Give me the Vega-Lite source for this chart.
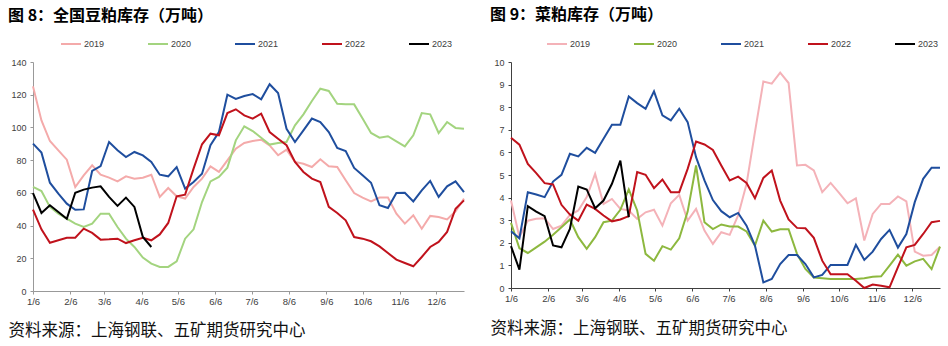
{
  "$schema": "https://vega.github.io/schema/vega-lite/v6.json",
  "background": "white",
  "padding": {"left": 8, "top": 6, "right": 0, "bottom": 0},
  "spacing": 22,
  "resolve": {"scale": {"color": "independent"}, "legend": {"color": "independent"}},
  "config": {
    "view": {"stroke": null},
    "font": "Liberation Sans",
    "axis": {"grid": false, "labelFontSize": 9.5, "labelColor": "#404040", "tickSize": 3, "labelFont": "Liberation Sans"},
    "legend": {"orient": "none", "direction": "horizontal", "symbolType": "stroke", "symbolSize": 400, "symbolStrokeWidth": 2, "labelFontSize": 9, "labelFont": "Liberation Sans", "labelColor": "#404040", "columnPadding": 39, "padding": 0, "labelOffset": 2, "title": null},
    "title": {"font": "Noto Sans CJK SC", "fontSize": 16, "fontWeight": "bold", "anchor": "start", "frame": "group", "color": "#000000"},
    "line": {"strokeWidth": 2}
  },
  "datasets": {
    "a": [
      {"d":"2021/01/06","s":"2019","v":125.1},{"d":"2021/01/13","s":"2019","v":104.3},{"d":"2021/01/20","s":"2019","v":91.7},{"d":"2021/01/27","s":"2019","v":86},{"d":"2021/02/03","s":"2019","v":80.3},{"d":"2021/02/10","s":"2019","v":63.6},{"d":"2021/02/17","s":"2019","v":70.7},{"d":"2021/02/24","s":"2019","v":76.8},{"d":"2021/03/03","s":"2019","v":71.1},{"d":"2021/03/10","s":"2019","v":69.3},{"d":"2021/03/17","s":"2019","v":67},{"d":"2021/03/24","s":"2019","v":70.1},{"d":"2021/03/31","s":"2019","v":68.7},{"d":"2021/04/07","s":"2019","v":69.3},{"d":"2021/04/14","s":"2019","v":71.1},{"d":"2021/04/21","s":"2019","v":57.5},{"d":"2021/04/28","s":"2019","v":63},{"d":"2021/05/05","s":"2019","v":57.9},{"d":"2021/05/12","s":"2019","v":56.5},{"d":"2021/05/19","s":"2019","v":63.6},{"d":"2021/05/26","s":"2019","v":68.7},{"d":"2021/06/02","s":"2019","v":76.2},{"d":"2021/06/09","s":"2019","v":72.8},{"d":"2021/06/16","s":"2019","v":79.9},{"d":"2021/06/23","s":"2019","v":87},{"d":"2021/06/30","s":"2019","v":90.5},{"d":"2021/07/07","s":"2019","v":91.7},{"d":"2021/07/14","s":"2019","v":92.5},{"d":"2021/07/21","s":"2019","v":89},{"d":"2021/07/28","s":"2019","v":83},{"d":"2021/08/04","s":"2019","v":86.4},{"d":"2021/08/11","s":"2019","v":78.9},{"d":"2021/08/18","s":"2019","v":77.8},{"d":"2021/08/25","s":"2019","v":75.8},{"d":"2021/09/01","s":"2019","v":80.5},{"d":"2021/09/08","s":"2019","v":76.2},{"d":"2021/09/15","s":"2019","v":75.8},{"d":"2021/09/22","s":"2019","v":67.7},{"d":"2021/09/29","s":"2019","v":59.9},{"d":"2021/10/06","s":"2019","v":57.1},{"d":"2021/10/13","s":"2019","v":54.8},{"d":"2021/10/20","s":"2019","v":57.1},{"d":"2021/10/27","s":"2019","v":57.1},{"d":"2021/11/03","s":"2019","v":47.3},{"d":"2021/11/10","s":"2019","v":41.2},{"d":"2021/11/17","s":"2019","v":46.3},{"d":"2021/11/24","s":"2019","v":38.1},{"d":"2021/12/01","s":"2019","v":45.9},{"d":"2021/12/08","s":"2019","v":45.2},{"d":"2021/12/15","s":"2019","v":43.8},{"d":"2021/12/22","s":"2019","v":48.7},{"d":"2021/12/29","s":"2019","v":56.5},
      {"d":"2021/01/06","s":"2020","v":63.6},{"d":"2021/01/13","s":"2020","v":61.1},{"d":"2021/01/20","s":"2020","v":51.4},{"d":"2021/01/27","s":"2020","v":47.3},{"d":"2021/02/03","s":"2020","v":44.2},{"d":"2021/02/10","s":"2020","v":41.2},{"d":"2021/02/17","s":"2020","v":39.1},{"d":"2021/02/24","s":"2020","v":41.2},{"d":"2021/03/03","s":"2020","v":47.3},{"d":"2021/03/10","s":"2020","v":47.3},{"d":"2021/03/17","s":"2020","v":39.1},{"d":"2021/03/24","s":"2020","v":32},{"d":"2021/03/31","s":"2020","v":26.9},{"d":"2021/04/07","s":"2020","v":20.4},{"d":"2021/04/14","s":"2020","v":16.7},{"d":"2021/04/21","s":"2020","v":14.7},{"d":"2021/04/28","s":"2020","v":14.7},{"d":"2021/05/05","s":"2020","v":18.1},{"d":"2021/05/12","s":"2020","v":32},{"d":"2021/05/19","s":"2020","v":37.7},{"d":"2021/05/26","s":"2020","v":54.4},{"d":"2021/06/02","s":"2020","v":67},{"d":"2021/06/09","s":"2020","v":69.7},{"d":"2021/06/16","s":"2020","v":75.4},{"d":"2021/06/23","s":"2020","v":92.1},{"d":"2021/06/30","s":"2020","v":100.7},{"d":"2021/07/07","s":"2020","v":97.8},{"d":"2021/07/14","s":"2020","v":93.7},{"d":"2021/07/21","s":"2020","v":89.5},{"d":"2021/07/28","s":"2020","v":90.5},{"d":"2021/08/04","s":"2020","v":91.1},{"d":"2021/08/11","s":"2020","v":101.3},{"d":"2021/08/18","s":"2020","v":108},{"d":"2021/08/25","s":"2020","v":116.2},{"d":"2021/09/01","s":"2020","v":123.7},{"d":"2021/09/08","s":"2020","v":122.3},{"d":"2021/09/15","s":"2020","v":114.5},{"d":"2021/09/22","s":"2020","v":114.1},{"d":"2021/09/29","s":"2020","v":114.1},{"d":"2021/10/06","s":"2020","v":105.4},{"d":"2021/10/13","s":"2020","v":96.6},{"d":"2021/10/20","s":"2020","v":93.7},{"d":"2021/10/27","s":"2020","v":94.6},{"d":"2021/11/03","s":"2020","v":91.5},{"d":"2021/11/10","s":"2020","v":88.4},{"d":"2021/11/17","s":"2020","v":95.2},{"d":"2021/11/24","s":"2020","v":108.8},{"d":"2021/12/01","s":"2020","v":108},{"d":"2021/12/08","s":"2020","v":96.6},{"d":"2021/12/15","s":"2020","v":103.3},{"d":"2021/12/22","s":"2020","v":99.7},{"d":"2021/12/29","s":"2020","v":99.2},
      {"d":"2021/01/06","s":"2021","v":90.1},{"d":"2021/01/13","s":"2021","v":84.6},{"d":"2021/01/20","s":"2021","v":66.2},{"d":"2021/01/27","s":"2021","v":59.5},{"d":"2021/02/03","s":"2021","v":53.4},{"d":"2021/02/10","s":"2021","v":49.7},{"d":"2021/02/17","s":"2021","v":49.9},{"d":"2021/02/24","s":"2021","v":73.4},{"d":"2021/03/03","s":"2021","v":76.4},{"d":"2021/03/10","s":"2021","v":91.1},{"d":"2021/03/17","s":"2021","v":86},{"d":"2021/03/24","s":"2021","v":81.9},{"d":"2021/03/31","s":"2021","v":85},{"d":"2021/04/07","s":"2021","v":82.9},{"d":"2021/04/14","s":"2021","v":78.9},{"d":"2021/04/21","s":"2021","v":71.1},{"d":"2021/04/28","s":"2021","v":70.1},{"d":"2021/05/05","s":"2021","v":75.8},{"d":"2021/05/12","s":"2021","v":62.6},{"d":"2021/05/19","s":"2021","v":66.6},{"d":"2021/05/26","s":"2021","v":71.7},{"d":"2021/06/02","s":"2021","v":89.1},{"d":"2021/06/09","s":"2021","v":97.2},{"d":"2021/06/16","s":"2021","v":120},{"d":"2021/06/23","s":"2021","v":117.4},{"d":"2021/06/30","s":"2021","v":119.2},{"d":"2021/07/07","s":"2021","v":120.4},{"d":"2021/07/14","s":"2021","v":117.2},{"d":"2021/07/21","s":"2021","v":126.4},{"d":"2021/07/28","s":"2021","v":121},{"d":"2021/08/04","s":"2021","v":99.2},{"d":"2021/08/11","s":"2021","v":91.1},{"d":"2021/08/18","s":"2021","v":98.2},{"d":"2021/08/25","s":"2021","v":105.4},{"d":"2021/09/01","s":"2021","v":103.3},{"d":"2021/09/08","s":"2021","v":97.2},{"d":"2021/09/15","s":"2021","v":87.4},{"d":"2021/09/22","s":"2021","v":85.6},{"d":"2021/09/29","s":"2021","v":75.2},{"d":"2021/10/06","s":"2021","v":70.7},{"d":"2021/10/13","s":"2021","v":66.2},{"d":"2021/10/20","s":"2021","v":52.4},{"d":"2021/10/27","s":"2021","v":50.7},{"d":"2021/11/03","s":"2021","v":59.9},{"d":"2021/11/10","s":"2021","v":60.1},{"d":"2021/11/17","s":"2021","v":54.8},{"d":"2021/11/24","s":"2021","v":61.5},{"d":"2021/12/01","s":"2021","v":67.3},{"d":"2021/12/08","s":"2021","v":57.5},{"d":"2021/12/15","s":"2021","v":64},{"d":"2021/12/22","s":"2021","v":67},{"d":"2021/12/29","s":"2021","v":60.5},
      {"d":"2021/01/06","s":"2022","v":49.7},{"d":"2021/01/13","s":"2022","v":37.7},{"d":"2021/01/20","s":"2022","v":29.5},{"d":"2021/01/27","s":"2022","v":31},{"d":"2021/02/03","s":"2022","v":32.6},{"d":"2021/02/10","s":"2022","v":32.6},{"d":"2021/02/17","s":"2022","v":38.1},{"d":"2021/02/24","s":"2022","v":35.5},{"d":"2021/03/03","s":"2022","v":31.4},{"d":"2021/03/10","s":"2022","v":31.6},{"d":"2021/03/17","s":"2022","v":32},{"d":"2021/03/24","s":"2022","v":29.3},{"d":"2021/03/31","s":"2022","v":31},{"d":"2021/04/07","s":"2022","v":32.6},{"d":"2021/04/14","s":"2022","v":31},{"d":"2021/04/21","s":"2022","v":34.6},{"d":"2021/04/28","s":"2022","v":41.6},{"d":"2021/05/05","s":"2022","v":57.9},{"d":"2021/05/12","s":"2022","v":58.9},{"d":"2021/05/19","s":"2022","v":74.8},{"d":"2021/05/26","s":"2022","v":89.7},{"d":"2021/06/02","s":"2022","v":96.2},{"d":"2021/06/09","s":"2022","v":95.2},{"d":"2021/06/16","s":"2022","v":108.8},{"d":"2021/06/23","s":"2022","v":111.1},{"d":"2021/06/30","s":"2022","v":107.4},{"d":"2021/07/07","s":"2022","v":105.4},{"d":"2021/07/14","s":"2022","v":108.4},{"d":"2021/07/21","s":"2022","v":97.2},{"d":"2021/07/28","s":"2022","v":93.1},{"d":"2021/08/04","s":"2022","v":89.1},{"d":"2021/08/11","s":"2022","v":78.9},{"d":"2021/08/18","s":"2022","v":72.8},{"d":"2021/08/25","s":"2022","v":68.7},{"d":"2021/09/01","s":"2022","v":66.6},{"d":"2021/09/08","s":"2022","v":51.4},{"d":"2021/09/15","s":"2022","v":47.7},{"d":"2021/09/22","s":"2022","v":43.2},{"d":"2021/09/29","s":"2022","v":33},{"d":"2021/10/06","s":"2022","v":32},{"d":"2021/10/13","s":"2022","v":30.4},{"d":"2021/10/20","s":"2022","v":27.3},{"d":"2021/10/27","s":"2022","v":23.2},{"d":"2021/11/03","s":"2022","v":19.2},{"d":"2021/11/10","s":"2022","v":17.1},{"d":"2021/11/17","s":"2022","v":15.1},{"d":"2021/11/24","s":"2022","v":20.8},{"d":"2021/12/01","s":"2022","v":26.9},{"d":"2021/12/08","s":"2022","v":30},{"d":"2021/12/15","s":"2022","v":36.1},{"d":"2021/12/22","s":"2022","v":50.3},{"d":"2021/12/29","s":"2022","v":55.4},
      {"d":"2021/01/06","s":"2023","v":59.9},{"d":"2021/01/13","s":"2023","v":47.7},{"d":"2021/01/20","s":"2023","v":52.4},{"d":"2021/01/27","s":"2023","v":48.3},{"d":"2021/02/03","s":"2023","v":44.2},{"d":"2021/02/10","s":"2023","v":60.1},{"d":"2021/02/17","s":"2023","v":62},{"d":"2021/02/24","s":"2023","v":63.2},{"d":"2021/03/03","s":"2023","v":64},{"d":"2021/03/10","s":"2023","v":57.5},{"d":"2021/03/17","s":"2023","v":52},{"d":"2021/03/24","s":"2023","v":57.1},{"d":"2021/03/31","s":"2023","v":51.4},{"d":"2021/04/07","s":"2023","v":33},{"d":"2021/04/14","s":"2023","v":26.9}
    ],
    "b": [
      {"d":"2021/01/06","s":"2019","v":3.87},{"d":"2021/01/13","s":"2019","v":2.25},{"d":"2021/01/20","s":"2019","v":2.98},{"d":"2021/01/27","s":"2019","v":3.06},{"d":"2021/02/03","s":"2019","v":3.09},{"d":"2021/02/10","s":"2019","v":2.61},{"d":"2021/02/17","s":"2019","v":2.76},{"d":"2021/02/24","s":"2019","v":3.23},{"d":"2021/03/03","s":"2019","v":3.43},{"d":"2021/03/10","s":"2019","v":4.02},{"d":"2021/03/17","s":"2019","v":5.05},{"d":"2021/03/24","s":"2019","v":3.72},{"d":"2021/03/31","s":"2019","v":3.94},{"d":"2021/04/07","s":"2019","v":3.5},{"d":"2021/04/14","s":"2019","v":3.43},{"d":"2021/04/21","s":"2019","v":3.06},{"d":"2021/04/28","s":"2019","v":3.35},{"d":"2021/05/05","s":"2019","v":3.46},{"d":"2021/05/12","s":"2019","v":2.76},{"d":"2021/05/19","s":"2019","v":3.75},{"d":"2021/05/26","s":"2019","v":4.12},{"d":"2021/06/02","s":"2019","v":2.98},{"d":"2021/06/09","s":"2019","v":3.5},{"d":"2021/06/16","s":"2019","v":2.54},{"d":"2021/06/23","s":"2019","v":1.95},{"d":"2021/06/30","s":"2019","v":2.47},{"d":"2021/07/07","s":"2019","v":2.35},{"d":"2021/07/14","s":"2019","v":3.21},{"d":"2021/07/21","s":"2019","v":4.6},{"d":"2021/07/28","s":"2019","v":6.9},{"d":"2021/08/04","s":"2019","v":9.14},{"d":"2021/08/11","s":"2019","v":9.04},{"d":"2021/08/18","s":"2019","v":9.53},{"d":"2021/08/25","s":"2019","v":9.07},{"d":"2021/09/01","s":"2019","v":5.42},{"d":"2021/09/08","s":"2019","v":5.45},{"d":"2021/09/15","s":"2019","v":5.2},{"d":"2021/09/22","s":"2019","v":4.24},{"d":"2021/09/29","s":"2019","v":4.65},{"d":"2021/10/06","s":"2019","v":4.21},{"d":"2021/10/13","s":"2019","v":3.75},{"d":"2021/10/20","s":"2019","v":3.97},{"d":"2021/10/27","s":"2019","v":2.1},{"d":"2021/11/03","s":"2019","v":3.28},{"d":"2021/11/10","s":"2019","v":3.72},{"d":"2021/11/17","s":"2019","v":3.72},{"d":"2021/11/24","s":"2019","v":4.05},{"d":"2021/12/01","s":"2019","v":3.83},{"d":"2021/12/08","s":"2019","v":1.61},{"d":"2021/12/15","s":"2019","v":1.43},{"d":"2021/12/22","s":"2019","v":1.46},{"d":"2021/12/29","s":"2019","v":1.83},
      {"d":"2021/01/06","s":"2020","v":2.88},{"d":"2021/01/13","s":"2020","v":1.76},{"d":"2021/01/20","s":"2020","v":1.55},{"d":"2021/01/27","s":"2020","v":1.8},{"d":"2021/02/03","s":"2020","v":2.05},{"d":"2021/02/10","s":"2020","v":2.36},{"d":"2021/02/17","s":"2020","v":2.69},{"d":"2021/02/24","s":"2020","v":3.03},{"d":"2021/03/03","s":"2020","v":2.25},{"d":"2021/03/10","s":"2020","v":1.73},{"d":"2021/03/17","s":"2020","v":2.25},{"d":"2021/03/24","s":"2020","v":2.91},{"d":"2021/03/31","s":"2020","v":2.98},{"d":"2021/04/07","s":"2020","v":3.46},{"d":"2021/04/14","s":"2020","v":4.36},{"d":"2021/04/21","s":"2020","v":3.43},{"d":"2021/04/28","s":"2020","v":1.51},{"d":"2021/05/05","s":"2020","v":1.21},{"d":"2021/05/12","s":"2020","v":1.85},{"d":"2021/05/19","s":"2020","v":1.7},{"d":"2021/05/26","s":"2020","v":2.2},{"d":"2021/06/02","s":"2020","v":3.38},{"d":"2021/06/09","s":"2020","v":5.42},{"d":"2021/06/16","s":"2020","v":2.91},{"d":"2021/06/23","s":"2020","v":2.61},{"d":"2021/06/30","s":"2020","v":2.81},{"d":"2021/07/07","s":"2020","v":2.72},{"d":"2021/07/14","s":"2020","v":2.72},{"d":"2021/07/21","s":"2020","v":2.5},{"d":"2021/07/28","s":"2020","v":1.88},{"d":"2021/08/04","s":"2020","v":2.98},{"d":"2021/08/11","s":"2020","v":2.5},{"d":"2021/08/18","s":"2020","v":2.6},{"d":"2021/08/25","s":"2020","v":2.6},{"d":"2021/09/01","s":"2020","v":1.51},{"d":"2021/09/08","s":"2020","v":0.84},{"d":"2021/09/15","s":"2020","v":0.46},{"d":"2021/09/22","s":"2020","v":0.43},{"d":"2021/09/29","s":"2020","v":0.4},{"d":"2021/10/06","s":"2020","v":0.4},{"d":"2021/10/13","s":"2020","v":0.4},{"d":"2021/10/20","s":"2020","v":0.4},{"d":"2021/10/27","s":"2020","v":0.43},{"d":"2021/11/03","s":"2020","v":0.5},{"d":"2021/11/10","s":"2020","v":0.52},{"d":"2021/11/17","s":"2020","v":0.99},{"d":"2021/11/24","s":"2020","v":1.48},{"d":"2021/12/01","s":"2020","v":0.99},{"d":"2021/12/08","s":"2020","v":1.18},{"d":"2021/12/15","s":"2020","v":1.29},{"d":"2021/12/22","s":"2020","v":0.84},{"d":"2021/12/29","s":"2020","v":1.83},
      {"d":"2021/01/06","s":"2021","v":2.51},{"d":"2021/01/13","s":"2021","v":2.2},{"d":"2021/01/20","s":"2021","v":4.24},{"d":"2021/01/27","s":"2021","v":4.14},{"d":"2021/02/03","s":"2021","v":4.02},{"d":"2021/02/10","s":"2021","v":4.71},{"d":"2021/02/17","s":"2021","v":5.01},{"d":"2021/02/24","s":"2021","v":5.94},{"d":"2021/03/03","s":"2021","v":5.82},{"d":"2021/03/10","s":"2021","v":6.2},{"d":"2021/03/17","s":"2021","v":5.98},{"d":"2021/03/24","s":"2021","v":6.6},{"d":"2021/03/31","s":"2021","v":7.22},{"d":"2021/04/07","s":"2021","v":7.22},{"d":"2021/04/14","s":"2021","v":8.48},{"d":"2021/04/21","s":"2021","v":8.18},{"d":"2021/04/28","s":"2021","v":7.93},{"d":"2021/05/05","s":"2021","v":8.7},{"d":"2021/05/12","s":"2021","v":7.64},{"d":"2021/05/19","s":"2021","v":7.42},{"d":"2021/05/26","s":"2021","v":7.93},{"d":"2021/06/02","s":"2021","v":7.34},{"d":"2021/06/09","s":"2021","v":5.79},{"d":"2021/06/16","s":"2021","v":4.76},{"d":"2021/06/23","s":"2021","v":3.89},{"d":"2021/06/30","s":"2021","v":3.4},{"d":"2021/07/07","s":"2021","v":3.13},{"d":"2021/07/14","s":"2021","v":3.32},{"d":"2021/07/21","s":"2021","v":2.76},{"d":"2021/07/28","s":"2021","v":1.88},{"d":"2021/08/04","s":"2021","v":0.25},{"d":"2021/08/11","s":"2021","v":0.4},{"d":"2021/08/18","s":"2021","v":1.06},{"d":"2021/08/25","s":"2021","v":1.46},{"d":"2021/09/01","s":"2021","v":1.46},{"d":"2021/09/08","s":"2021","v":1.06},{"d":"2021/09/15","s":"2021","v":0.47},{"d":"2021/09/22","s":"2021","v":0.58},{"d":"2021/09/29","s":"2021","v":1.02},{"d":"2021/10/06","s":"2021","v":1.02},{"d":"2021/10/13","s":"2021","v":1.02},{"d":"2021/10/20","s":"2021","v":1.91},{"d":"2021/10/27","s":"2021","v":1.24},{"d":"2021/11/03","s":"2021","v":1.61},{"d":"2021/11/10","s":"2021","v":2.17},{"d":"2021/11/17","s":"2021","v":2.57},{"d":"2021/11/24","s":"2021","v":1.79},{"d":"2021/12/01","s":"2021","v":2.39},{"d":"2021/12/08","s":"2021","v":3.8},{"d":"2021/12/15","s":"2021","v":4.83},{"d":"2021/12/22","s":"2021","v":5.32},{"d":"2021/12/29","s":"2021","v":5.32},
      {"d":"2021/01/06","s":"2022","v":6.65},{"d":"2021/01/13","s":"2022","v":6.34},{"d":"2021/01/20","s":"2022","v":5.49},{"d":"2021/01/27","s":"2022","v":5.08},{"d":"2021/02/03","s":"2022","v":4.64},{"d":"2021/02/10","s":"2022","v":4.58},{"d":"2021/02/17","s":"2022","v":3.68},{"d":"2021/02/24","s":"2022","v":3.25},{"d":"2021/03/03","s":"2022","v":2.98},{"d":"2021/03/10","s":"2022","v":3.69},{"d":"2021/03/17","s":"2022","v":3.5},{"d":"2021/03/24","s":"2022","v":3.21},{"d":"2021/03/31","s":"2022","v":2.95},{"d":"2021/04/07","s":"2022","v":3.03},{"d":"2021/04/14","s":"2022","v":3.18},{"d":"2021/04/21","s":"2022","v":5.13},{"d":"2021/04/28","s":"2022","v":5.01},{"d":"2021/05/05","s":"2022","v":4.42},{"d":"2021/05/12","s":"2022","v":4.8},{"d":"2021/05/19","s":"2022","v":4.24},{"d":"2021/05/26","s":"2022","v":4.24},{"d":"2021/06/02","s":"2022","v":5.27},{"d":"2021/06/09","s":"2022","v":6.48},{"d":"2021/06/16","s":"2022","v":6.35},{"d":"2021/06/23","s":"2022","v":6.11},{"d":"2021/06/30","s":"2022","v":5.42},{"d":"2021/07/07","s":"2022","v":4.76},{"d":"2021/07/14","s":"2022","v":4.93},{"d":"2021/07/21","s":"2022","v":4.65},{"d":"2021/07/28","s":"2022","v":3.97},{"d":"2021/08/04","s":"2022","v":4.87},{"d":"2021/08/11","s":"2022","v":5.2},{"d":"2021/08/18","s":"2022","v":3.87},{"d":"2021/08/25","s":"2022","v":3.03},{"d":"2021/09/01","s":"2022","v":2.66},{"d":"2021/09/08","s":"2022","v":2.64},{"d":"2021/09/15","s":"2022","v":2.22},{"d":"2021/09/22","s":"2022","v":1.21},{"d":"2021/09/29","s":"2022","v":0.61},{"d":"2021/10/06","s":"2022","v":0.61},{"d":"2021/10/13","s":"2022","v":0.61},{"d":"2021/10/20","s":"2022","v":0.32},{"d":"2021/10/27","s":"2022","v":0},{"d":"2021/11/03","s":"2022","v":0.15},{"d":"2021/11/10","s":"2022","v":0.1},{"d":"2021/11/17","s":"2022","v":0.03},{"d":"2021/11/24","s":"2022","v":0.92},{"d":"2021/12/01","s":"2022","v":1.8},{"d":"2021/12/08","s":"2022","v":1.91},{"d":"2021/12/15","s":"2022","v":2.39},{"d":"2021/12/22","s":"2022","v":2.91},{"d":"2021/12/29","s":"2022","v":2.97},
      {"d":"2021/01/06","s":"2023","v":1.85},{"d":"2021/01/13","s":"2023","v":0.81},{"d":"2021/01/20","s":"2023","v":3.62},{"d":"2021/01/27","s":"2023","v":3.38},{"d":"2021/02/03","s":"2023","v":3.18},{"d":"2021/02/10","s":"2023","v":1.88},{"d":"2021/02/17","s":"2023","v":1.8},{"d":"2021/02/24","s":"2023","v":2.61},{"d":"2021/03/03","s":"2023","v":4.49},{"d":"2021/03/10","s":"2023","v":4.36},{"d":"2021/03/17","s":"2023","v":3.53},{"d":"2021/03/24","s":"2023","v":3.87},{"d":"2021/03/31","s":"2023","v":4.61},{"d":"2021/04/07","s":"2023","v":5.64},{"d":"2021/04/14","s":"2023","v":3.13}
    ]
  },
  "hconcat": [
    {
      "width": 431,
      "height": 229,
      "data": {"name": "a"},
      "title": {"text": "图 8：全国豆粕库存（万吨）", "dx": -25, "offset": 9},
      "mark": {"type": "line", "strokeWidth": 2},
      "encoding": {
        "x": {
          "field": "d", "type": "temporal",
          "scale": {"domain": [{"year": 2021, "month": 1, "date": 6}, {"year": 2021, "month": 12, "date": 29}]},
          "axis": {
            "values": [{"year": 2021, "month": 1, "date": 6}, {"year": 2021, "month": 2, "date": 6}, {"year": 2021, "month": 3, "date": 6}, {"year": 2021, "month": 4, "date": 6}, {"year": 2021, "month": 5, "date": 6}, {"year": 2021, "month": 6, "date": 6}, {"year": 2021, "month": 7, "date": 6}, {"year": 2021, "month": 8, "date": 6}, {"year": 2021, "month": 9, "date": 6}, {"year": 2021, "month": 10, "date": 6}, {"year": 2021, "month": 11, "date": 6}, {"year": 2021, "month": 12, "date": 6}],
            "format": "%-m/%-d",
            "labelAngle": 0,
            "labelFlush": false,
            "labelPadding": 2,
            "domainColor": "#999999",
            "tickColor": "#999999",
            "title": "资料来源：上海钢联、五矿期货研究中心",
            "titleFont": "Noto Sans CJK SC",
            "titleFontSize": 16.5,
            "titleFontWeight": "normal",
            "titleColor": "#111111",
            "titleX": -25,
            "titleY": 39,
            "titleAlign": "left",
            "titleBaseline": "middle"
          }
        },
        "y": {
          "field": "v", "type": "quantitative",
          "scale": {"domain": [0, 140], "nice": false},
          "axis": {"values": [0, 20, 40, 60, 80, 100, 120, 140], "title": null, "labelPadding": 4, "labelFontSize": 9, "domainColor": "#999999", "tickColor": "#999999"}
        },
        "color": {
          "field": "s", "type": "nominal",
          "scale": {"domain": ["2019", "2020", "2021", "2022", "2023"], "range": ["#F4AAAA", "#A3D47F", "#1F4E9E", "#C0121C", "#000000"]},
          "legend": {"legendX": 27, "legendY": -29}
        }
      }
    },
    {
      "width": 429,
      "height": 226,
      "data": {"name": "b"},
      "title": {"text": "图 9：菜粕库存（万吨）", "dx": -21, "offset": 10.5},
      "mark": {"type": "line", "strokeWidth": 2},
      "encoding": {
        "x": {
          "field": "d", "type": "temporal",
          "scale": {"domain": [{"year": 2021, "month": 1, "date": 6}, {"year": 2021, "month": 12, "date": 29}]},
          "axis": {
            "values": [{"year": 2021, "month": 1, "date": 6}, {"year": 2021, "month": 2, "date": 6}, {"year": 2021, "month": 3, "date": 6}, {"year": 2021, "month": 4, "date": 6}, {"year": 2021, "month": 5, "date": 6}, {"year": 2021, "month": 6, "date": 6}, {"year": 2021, "month": 7, "date": 6}, {"year": 2021, "month": 8, "date": 6}, {"year": 2021, "month": 9, "date": 6}, {"year": 2021, "month": 10, "date": 6}, {"year": 2021, "month": 11, "date": 6}, {"year": 2021, "month": 12, "date": 6}],
            "format": "%-m/%-d",
            "labelAngle": 0,
            "labelFlush": false,
            "labelPadding": 2,
            "domainColor": "#404040",
            "tickColor": "#404040",
            "title": "资料来源：上海钢联、五矿期货研究中心",
            "titleFont": "Noto Sans CJK SC",
            "titleFontSize": 16.5,
            "titleFontWeight": "normal",
            "titleColor": "#111111",
            "titleX": -21,
            "titleY": 40.5,
            "titleAlign": "left",
            "titleBaseline": "middle"
          }
        },
        "y": {
          "field": "v", "type": "quantitative",
          "scale": {"domain": [0, 10], "nice": false},
          "axis": {"values": [0, 1, 2, 3, 4, 5, 6, 7, 8, 9, 10], "title": null, "labelPadding": 4, "labelFontSize": 9, "domainColor": "#404040", "tickColor": "#404040"}
        },
        "color": {
          "field": "s", "type": "nominal",
          "scale": {"domain": ["2019", "2020", "2021", "2022", "2023"], "range": ["#F4B2B8", "#8DB83F", "#1F4E9E", "#C0121C", "#000000"]},
          "legend": {"legendX": 35, "legendY": -29}
        }
      }
    }
  ]
}
